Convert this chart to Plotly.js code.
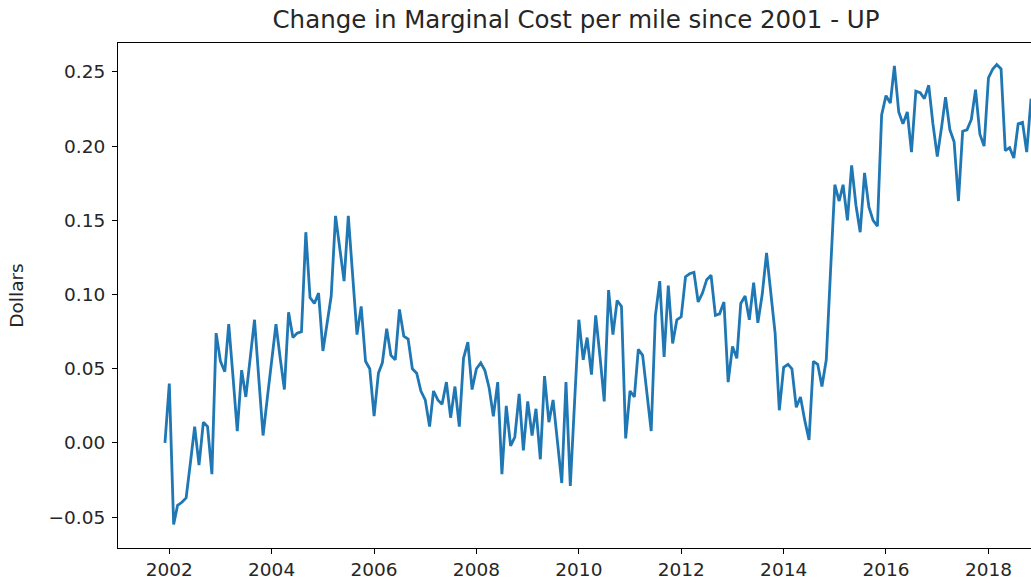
<!DOCTYPE html>
<html>
<head>
<meta charset="utf-8">
<script src="https://cdn.plot.ly/plotly-3.0.1.min.js"></script>
<style>
html, body { margin: 0; padding: 0; overflow: hidden; background: #fff; }
#chart { width: 1036px; height: 588px; }
</style>
</head>
<body>
<div id="chart"></div>
<script>
// First month of the series (value is the 2001 baseline, 0)
const startYear = 2001;
const startMonth = 12;

// Monthly change in marginal cost per mile (dollars), Dec 2001 onward
const values = [
  0.000, 0.040, -0.055, -0.042, -0.040, -0.037, -0.013, 0.011, -0.015, 0.014, 0.011, -0.021,
  0.074, 0.055, 0.048, 0.080, 0.044, 0.008, 0.049, 0.031, 0.057, 0.083, 0.044, 0.005,
  0.030, 0.055, 0.080, 0.058, 0.036, 0.088, 0.071, 0.074, 0.075, 0.142, 0.098, 0.094,
  0.101, 0.062, 0.080, 0.099, 0.153, 0.131, 0.109, 0.153, 0.113, 0.073, 0.092, 0.055,
  0.050, 0.018, 0.047, 0.054, 0.077, 0.059, 0.056, 0.090, 0.072, 0.070, 0.050, 0.047,
  0.035, 0.029, 0.011, 0.035, 0.029, 0.026, 0.041, 0.017, 0.038, 0.011, 0.057, 0.068,
  0.036, 0.050, 0.054, 0.049, 0.037, 0.018, 0.041, -0.021, 0.025, -0.002, 0.004, 0.033,
  -0.005, 0.028, 0.005, 0.023, -0.011, 0.045, 0.014, 0.029, 0.001, -0.027, 0.041, -0.029,
  0.027, 0.083, 0.056, 0.071, 0.046, 0.086, 0.058, 0.028, 0.103, 0.073, 0.096, 0.092,
  0.003, 0.035, 0.031, 0.063, 0.059, 0.034, 0.008, 0.086, 0.109, 0.058, 0.106, 0.067,
  0.083, 0.085, 0.112, 0.114, 0.115, 0.095, 0.101, 0.110, 0.113, 0.086, 0.087, 0.095,
  0.041, 0.065, 0.057, 0.094, 0.099, 0.083, 0.108, 0.081, 0.100, 0.128, 0.101, 0.074,
  0.022, 0.051, 0.053, 0.050, 0.024, 0.031, 0.015, 0.002, 0.055, 0.053, 0.038, 0.056,
  0.115, 0.174, 0.163, 0.174, 0.150, 0.187, 0.160, 0.142, 0.182, 0.159, 0.150, 0.146,
  0.221, 0.234, 0.229, 0.254, 0.223, 0.215, 0.223, 0.196, 0.237, 0.236, 0.232, 0.241,
  0.215, 0.193, 0.213, 0.233, 0.211, 0.203, 0.163, 0.210, 0.211, 0.218, 0.238, 0.208,
  0.200, 0.246, 0.252, 0.255, 0.252, 0.197, 0.199, 0.192, 0.215, 0.216, 0.196, 0.232
];

// Month labels for each value (consecutive months from the start month)
const dates = [];
for (let i = 0; i < values.length; i++) {
  const t = (startYear * 12 + (startMonth - 1)) + i;
  const y = Math.floor(t / 12), m = (t % 12) + 1;
  dates.push(y + '-' + (m < 10 ? '0' + m : m) + '-01');
}

const xTickVals = ['2002-01-01', '2004-01-01', '2006-01-01', '2008-01-01', '2010-01-01',
                   '2012-01-01', '2014-01-01', '2016-01-01', '2018-01-01'];
const xTickText = ['2002', '2004', '2006', '2008', '2010', '2012', '2014', '2016', '2018'];
const yTickVals = [-0.05, 0.00, 0.05, 0.10, 0.15, 0.20, 0.25];
const yTickText = ['\u22120.05', '0.00', '0.05', '0.10', '0.15', '0.20', '0.25'];

const font = { family: 'DejaVu Sans, sans-serif', size: 18.5, color: '#262626' };

const trace = {
  x: dates,
  y: values,
  type: 'scatter',
  mode: 'lines',
  line: { color: '#1f77b4', width: 2.8 },
  hoverinfo: 'x+y'
};

const layout = {
  width: 1036,
  height: 588,
  margin: { l: 118, r: 2, t: 43, b: 40, pad: 0 },
  paper_bgcolor: '#ffffff',
  plot_bgcolor: '#ffffff',
  showlegend: false,
  font: font,
  title: {
    text: 'Change in Marginal Cost per mile since 2001 - UP',
    font: { family: 'DejaVu Sans, sans-serif', size: 24.5, color: '#262626' },
    x: 0.5, xref: 'paper', xanchor: 'center',
    y: 1 - 19 / 588, yref: 'container', yanchor: 'middle'
  },
  xaxis: {
    type: 'date',
    range: ['2000-12-31', '2018-11-22'],
    tickmode: 'array',
    tickvals: xTickVals,
    ticktext: xTickText,
    ticks: 'outside', ticklen: 5, tickwidth: 1, tickcolor: '#000',
    showline: true, linecolor: '#000', linewidth: 1, mirror: true,
    showgrid: false, zeroline: false,
    tickfont: font,
    fixedrange: true
  },
  yaxis: {
    range: [-0.0708, 0.2695],
    tickmode: 'array',
    tickvals: yTickVals,
    ticktext: yTickText,
    ticks: 'outside', ticklen: 5, tickwidth: 1, tickcolor: '#000',
    ticklabelstandoff: 3,
    showline: true, linecolor: '#000', linewidth: 1, mirror: true,
    showgrid: false, zeroline: false,
    tickfont: font,
    title: { text: 'Dollars', font: font, standoff: 20 },
    automargin: false,
    fixedrange: true
  }
};

Plotly.newPlot('chart', [trace], layout, { displayModeBar: false, staticPlot: true });
</script>
</body>
</html>
